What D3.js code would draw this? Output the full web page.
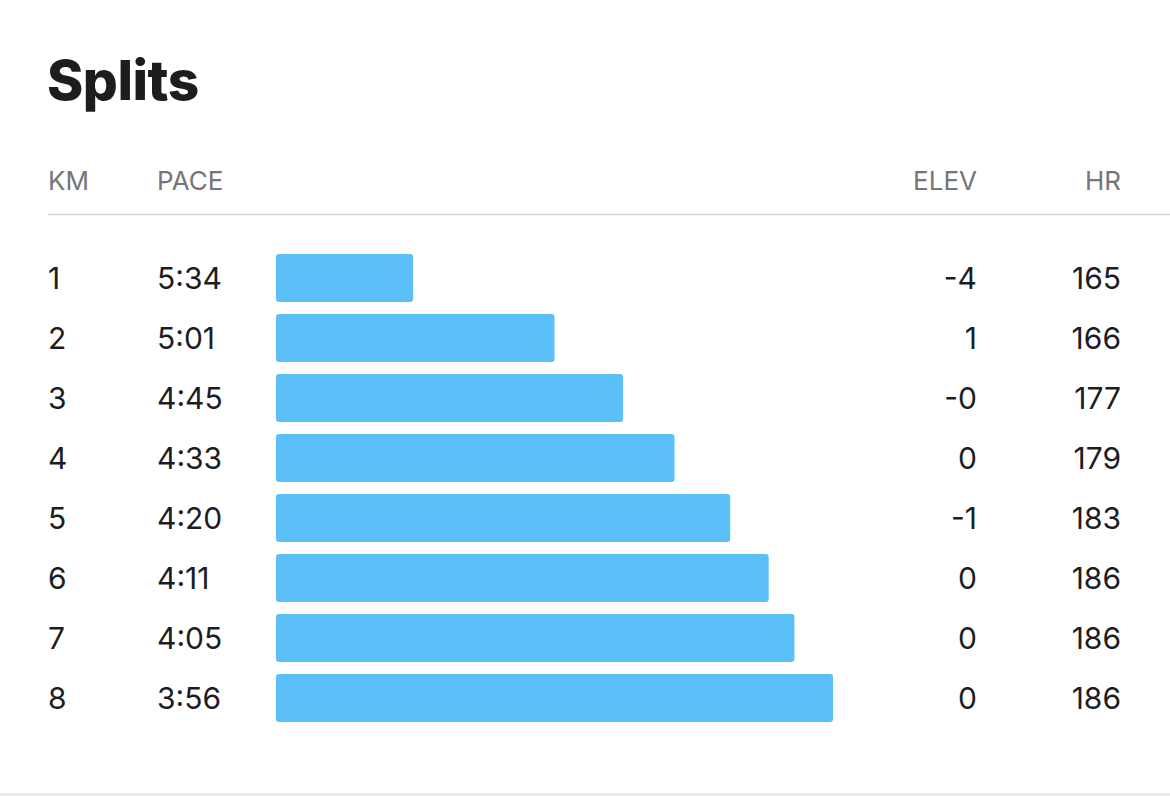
<!DOCTYPE html>
<html>
<head>
<meta charset="utf-8">
<script src="https://cdn.jsdelivr.net/npm/d3@7"></script>
<style>
  html, body { margin: 0; padding: 0; background: #fff; }
  svg { display: block; }
</style>
</head>
<body>
<svg id="chart" width="1170" height="796"></svg>
<script>
const km = ["1", "2", "3", "4", "5", "6", "7", "8"];
const pace = ["5:34", "5:01", "4:45", "4:33", "4:20", "4:11", "4:05", "3:56"];
const elev = ["-4", "1", "-0", "0", "-1", "0", "0", "0"];
const hr = [165, 166, 177, 179, 183, 186, 186, 186];
const headers = ["KM", "PACE", "ELEV", "HR"];
const title = "Splits";

const toSec = s => { const [m, ss] = s.split(":").map(Number); return m * 60 + ss; };
const paceSec = pace.map(toSec);

const svg = d3.select("#chart");
const font = "Inter, 'Noto Sans', sans-serif";

svg.append("text").attr("x", 47).attr("y", 100)
  .attr("font-family", font).attr("font-weight", 800).attr("font-size", 55)
  .attr("letter-spacing", "-0.5").attr("fill", "#1d1d1f").text(title);

const colX = { KM: 48, PACE: 157, ELEV: 977, HR: 1121 };
const anchor = { KM: "start", PACE: "start", ELEV: "end", HR: "end" };

svg.selectAll("text.hdr").data(headers).join("text").attr("class", "hdr")
  .attr("x", d => colX[d]).attr("y", 190)
  .attr("text-anchor", d => anchor[d])
  .attr("font-family", font).attr("font-weight", 400).attr("font-size", 26)
  .attr("fill", "#75757a").text(d => d);

svg.append("line").attr("x1", 48).attr("x2", 1170).attr("y1", 214.5).attr("y2", 214.5)
  .attr("stroke", "#d4d4de").attr("stroke-width", 1.5);

svg.append("rect").attr("x", 0).attr("y", 793).attr("width", 1170).attr("height", 3)
  .attr("fill", "#ebebeb");

const y = d3.scaleBand().domain(km).range([248, 728]).paddingInner(0.2).paddingOuter(0.1);
const x = d3.scaleLinear().domain([366, 236]).range([276, 833]);

const rows = svg.selectAll("g.row").data(km).join("g").attr("class", "row");

rows.append("rect")
  .attr("x", x(366))
  .attr("y", d => y(d))
  .attr("width", (d, i) => x(paceSec[i]) - x(366))
  .attr("height", y.bandwidth())
  .attr("rx", 3)
  .attr("fill", "#5bbff8");

const base = d => y(d) + y.bandwidth() / 2 + 11;
const txt = (sel, xx, anc, f) => sel.append("text").attr("x", xx).attr("y", base)
  .attr("text-anchor", anc).attr("font-family", font).attr("font-size", 30)
  .attr("fill", "#1d1d1f").text(f);

txt(rows, 48, "start", d => d);
txt(rows, 157, "start", (d, i) => pace[i]);
txt(rows, 977, "end", (d, i) => elev[i]);
txt(rows, 1121, "end", (d, i) => hr[i]);
</script>
</body>
</html>
